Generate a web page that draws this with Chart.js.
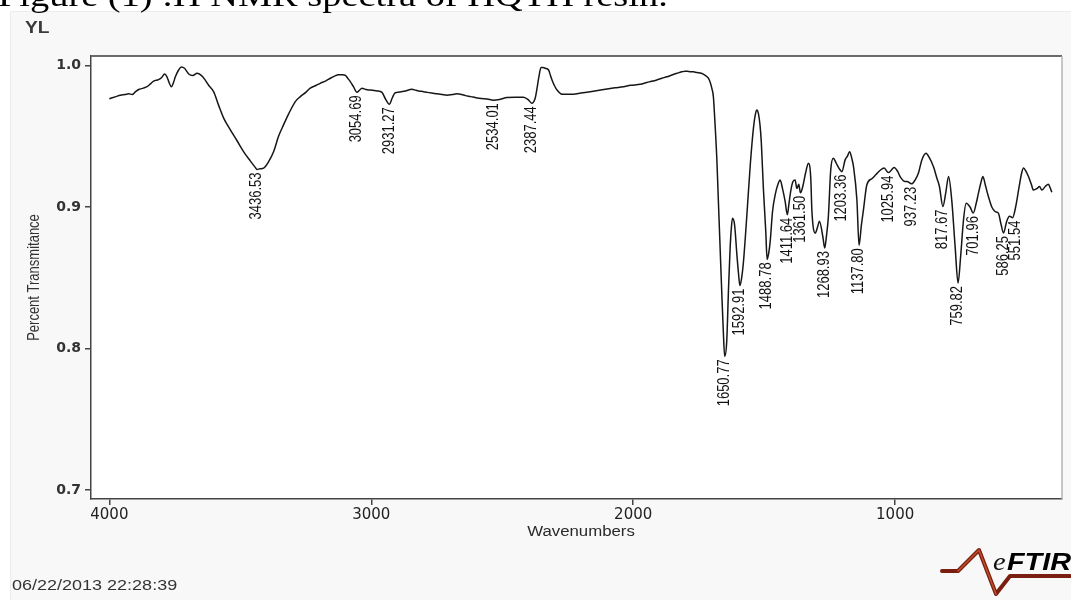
<!DOCTYPE html>
<html>
<head>
<meta charset="utf-8">
<title>FTIR spectrum</title>
<script src="https://cdn.jsdelivr.net/npm/chart.js@4.4.1/dist/chart.umd.min.js"></script>
<style>
  html, body { margin: 0; padding: 0; background: #fff; }
  canvas { display: block; }
</style>
</head>
<body>
<canvas id="spectrum" width="1071" height="600"></canvas>
<script>
// Spectrum trace: wavenumber (cm-1) and fractional transmittance
const waveNumbers = [
  4000, 3975, 3958, 3940, 3926, 3913, 3900, 3888, 3870, 3856, 3843, 3831, 3812, 3800, 3789, 3780, 3772, 3763, 3755, 3748,
  3735, 3725, 3713, 3705, 3697, 3681, 3665, 3649, 3635, 3621, 3602, 3583, 3564, 3538, 3513, 3487, 3462, 3443, 3436.53, 3425,
  3411, 3392, 3373, 3354, 3335, 3315, 3290, 3271, 3250, 3233, 3210, 3195, 3175, 3156, 3140, 3125, 3110, 3099, 3090, 3080,
  3068, 3054.69, 3045, 3036, 3020, 3010, 2995, 2978, 2959, 2945, 2931.27, 2920, 2910, 2902, 2885, 2870, 2845, 2830, 2819, 2800,
  2787, 2770, 2749, 2730, 2711, 2690, 2673, 2655, 2641, 2620, 2603, 2580, 2558, 2534.01, 2510, 2482, 2450, 2419, 2400, 2387.44,
  2374, 2367, 2361, 2352, 2344, 2336, 2323, 2316, 2310, 2300, 2291, 2272, 2250, 2228, 2200, 2164, 2130, 2100, 2070, 2037,
  2010, 1973, 1948, 1930, 1910, 1890, 1871, 1850, 1833, 1815, 1802, 1790, 1783, 1770, 1757, 1740, 1725, 1713, 1705, 1700,
  1694, 1688, 1681, 1675, 1668, 1662, 1656, 1650.77, 1643, 1636, 1630, 1625, 1621, 1613, 1604, 1598, 1592.91, 1586, 1579, 1566,
  1553, 1541, 1533, 1528, 1522, 1516, 1511, 1503, 1494, 1488.78, 1483, 1477, 1468, 1458, 1448, 1439, 1430, 1420, 1411.64, 1405,
  1398, 1390, 1382, 1375, 1368, 1361.5, 1352, 1342, 1331, 1322, 1318, 1305, 1296, 1289, 1276, 1268.93, 1262, 1255, 1246, 1236,
  1225, 1213, 1203.36, 1191, 1182, 1174, 1165, 1159, 1146, 1137.8, 1129, 1121, 1108, 1089, 1073, 1057, 1042, 1025.94, 1015, 1004,
  990, 981, 962, 955, 937.23, 924, 911, 898, 882, 870, 854, 840, 831, 817.67, 807, 796, 784, 771, 759.82, 750,
  739, 729, 714, 701.96, 690, 682, 673, 665, 655, 644, 631, 618, 606, 596, 586.25, 574, 563, 551.54, 540, 527,
  517, 510, 500, 491, 480, 472, 459, 449, 440, 427, 415, 408, 402
];
const transmittance = [
  0.9765, 0.978, 0.979, 0.9795, 0.980, 0.9795, 0.9815, 0.983, 0.984, 0.985, 0.987, 0.989, 0.990, 0.9915, 0.994, 0.992, 0.988, 0.985, 0.988, 0.992,
  0.997, 0.999, 0.998, 0.996, 0.994, 0.993, 0.9945, 0.993, 0.990, 0.986, 0.9815, 0.972, 0.963, 0.9545, 0.947, 0.939, 0.9326, 0.928, 0.9265, 0.927,
  0.9275, 0.932, 0.939, 0.950, 0.958, 0.966, 0.9745, 0.978, 0.981, 0.984, 0.986, 0.9874, 0.989, 0.991, 0.9925, 0.9935, 0.9935, 0.993, 0.991, 0.9886,
  0.985, 0.981, 0.9825, 0.984, 0.983, 0.9827, 0.9825, 0.982, 0.981, 0.976, 0.9726, 0.977, 0.9805, 0.981, 0.9815, 0.982, 0.9832, 0.9825, 0.982, 0.9815,
  0.981, 0.9805, 0.980, 0.9795, 0.979, 0.9795, 0.980, 0.9795, 0.9787, 0.978, 0.9773, 0.9766, 0.9764, 0.9755, 0.976, 0.9773, 0.9776, 0.9776, 0.9757, 0.9733,
  0.977, 0.984, 0.991, 0.9985, 0.9985, 0.998, 0.9968, 0.993, 0.9898, 0.9855, 0.9827, 0.9797, 0.9797, 0.9797, 0.9805, 0.9815, 0.9825, 0.9834, 0.9842, 0.985,
  0.986, 0.9867, 0.988, 0.9888, 0.9898, 0.991, 0.992, 0.9935, 0.9945, 0.9955, 0.996, 0.9958, 0.9956, 0.9955, 0.995, 0.9945, 0.993, 0.991, 0.9875, 0.984,
  0.978, 0.960, 0.935, 0.905, 0.870, 0.840, 0.812, 0.7945, 0.805, 0.843, 0.871, 0.886, 0.892, 0.8874, 0.866, 0.853, 0.8445, 0.850, 0.8615, 0.8945,
  0.930, 0.9557, 0.966, 0.9686, 0.966, 0.958, 0.946, 0.913, 0.883, 0.863, 0.867, 0.8757, 0.897, 0.9086, 0.9157, 0.919, 0.913, 0.904, 0.8945, 0.903,
  0.912, 0.918, 0.919, 0.913, 0.916, 0.910, 0.915, 0.924, 0.931, 0.920, 0.898, 0.8816, 0.886, 0.890, 0.879, 0.871, 0.880, 0.893, 0.926, 0.9345,
  0.931, 0.927, 0.925, 0.9333, 0.936, 0.939, 0.934, 0.9286, 0.905, 0.873, 0.887, 0.898, 0.9157, 0.920, 0.923, 0.926, 0.9275, 0.9243, 0.926, 0.928,
  0.925, 0.9215, 0.918, 0.918, 0.9164, 0.919, 0.924, 0.9333, 0.938, 0.935, 0.9286, 0.920, 0.9145, 0.9004, 0.9098, 0.9215, 0.905, 0.872, 0.8463, 0.865,
  0.891, 0.9027, 0.900, 0.8957, 0.903, 0.9098, 0.917, 0.9215, 0.915, 0.9074, 0.900, 0.8968, 0.8957, 0.888, 0.8816, 0.890, 0.8935, 0.8925, 0.900, 0.914,
  0.924, 0.9275, 0.925, 0.9215, 0.916, 0.912, 0.913, 0.9145, 0.912, 0.9145, 0.916, 0.9135, 0.9105
];

// Picked peak positions (cm-1), printed under each band
const peakLabels = [
  '3436.53', '3054.69', '2931.27', '2534.01', '2387.44', '1650.77', '1592.91', '1488.78', '1411.64', '1361.50',
  '1268.93', '1203.36', '1137.80', '1025.94', '937.23', '817.67', '759.82', '701.96', '586.25', '551.54'
];

const xTickValues = [4000, 3000, 2000, 1000];
const xTickLabels = ['4000', '3000', '2000', '1000'];
const yTickValues = [0.7, 0.8, 0.9, 1.0];
const yTickLabels = ['0.7', '0.8', '0.9', '1.0'];

const WIDTH = 1071, HEIGHT = 600;
const SANS = "'Liberation Sans', Arial, sans-serif";
const WIDE = 1.2; // horizontal widening of the instrument-style lettering

// Draw text, optionally rotated, with glyphs widened along the screen x direction
function drawText(ctx, text, x, y, opt) {
  ctx.save();
  ctx.translate(x, y);
  if (opt.rotate) {
    ctx.rotate(opt.rotate);
    ctx.scale(1, opt.stretch || 1);
  } else {
    ctx.scale(opt.stretch || 1, 1);
  }
  ctx.font = opt.font;
  ctx.fillStyle = opt.color || '#222';
  ctx.textAlign = opt.align || 'left';
  ctx.textBaseline = opt.baseline || 'alphabetic';
  ctx.fillText(text, 0, 0);
  ctx.restore();
}

// Linear look-up of the trace at any wavenumber
function traceAt(w) {
  for (let i = 0; i < waveNumbers.length - 1; i++) {
    const a = waveNumbers[i], b = waveNumbers[i + 1];
    if (w <= a && w >= b) {
      const t = (a - w) / (a - b);
      return transmittance[i] + t * (transmittance[i + 1] - transmittance[i]);
    }
  }
  return transmittance[transmittance.length - 1];
}

const pageDecor = {
  id: 'pageDecor',
  beforeDraw(chart) {
    const ctx = chart.ctx, a = chart.chartArea;
    ctx.save();
    ctx.fillStyle = '#ffffff';
    ctx.fillRect(0, 0, WIDTH, HEIGHT);
    ctx.fillStyle = '#f8f8f8';
    ctx.fillRect(10, 11, WIDTH - 10, HEIGHT - 11);
    ctx.strokeStyle = '#ececec';
    ctx.lineWidth = 1;
    ctx.beginPath();
    ctx.moveTo(10.5, HEIGHT); ctx.lineTo(10.5, 11.5); ctx.lineTo(WIDTH, 11.5);
    ctx.stroke();
    ctx.fillStyle = '#ffffff';
    ctx.fillRect(a.left, a.top, a.right - a.left, a.bottom - a.top);
    ctx.restore();
  },
  afterDraw(chart) {
    const ctx = chart.ctx, a = chart.chartArea;
    ctx.save();
    // frame: top and right edges of the plot box
    ctx.strokeStyle = '#6a6a6a';
    ctx.lineWidth = 2;
    ctx.beginPath();
    ctx.moveTo(a.left, a.top); ctx.lineTo(a.right, a.top);
    ctx.stroke();
    ctx.strokeStyle = '#b5b5b5';
    ctx.lineWidth = 1.5;
    ctx.beginPath();
    ctx.moveTo(a.right, a.top); ctx.lineTo(a.right, a.bottom);
    ctx.stroke();
    ctx.restore();

    // caption of the document page, running off the top edge
    drawText(ctx, 'Figure (1) :H NMR spectra of HQTH resin.', -2, 6,
      { font: "32px 'Liberation Serif', 'Times New Roman', serif", color: '#000', stretch: WIDE });

    // y-axis name label and axis titles
    drawText(ctx, 'YL', 25, 33, { font: 'bold 16px ' + SANS, color: '#3a3a3a', stretch: WIDE });
    drawText(ctx, 'Percent Transmitance', 35, (a.top + a.bottom) / 2,
      { font: '13px ' + SANS, color: '#333', rotate: -Math.PI / 2, stretch: WIDE, align: 'center', baseline: 'middle' });
    drawText(ctx, 'Wavenumbers', 581, 532,
      { font: '14px ' + SANS, color: '#2a2a2a', stretch: WIDE, align: 'center', baseline: 'middle' });

    // acquisition time stamp
    drawText(ctx, '06/22/2013 22:28:39', 12, 590, { font: '15px ' + SANS, color: '#333', stretch: WIDE });

    // eFTIR logo
    ctx.save();
    ctx.lineJoin = 'round';
    ctx.lineCap = 'round';
    ctx.strokeStyle = '#7a1e10';
    ctx.lineWidth = 4;
    ctx.beginPath();
    ctx.moveTo(942, 571);
    ctx.lineTo(958, 571);
    ctx.lineTo(979, 550);
    ctx.lineTo(996, 594);
    ctx.lineTo(1010, 576);
    ctx.lineTo(1070, 576);
    ctx.stroke();
    ctx.strokeStyle = '#c0502a';
    ctx.lineWidth = 1.5;
    ctx.beginPath();
    ctx.moveTo(958, 571);
    ctx.lineTo(979, 550);
    ctx.lineTo(996, 594);
    ctx.stroke();
    ctx.restore();
    drawText(ctx, 'e', 993, 570, { font: "italic 26px 'Liberation Serif', serif", color: '#111', stretch: 1.1 });
    drawText(ctx, 'FTIR', 1007, 570, { font: 'italic bold 24px ' + SANS, color: '#000', stretch: WIDE });
  }
};

// Vertical peak labels hung under each picked band
const peakMarks = {
  id: 'peakMarks',
  afterDatasetsDraw(chart) {
    const ctx = chart.ctx, xs = chart.scales.x, ys = chart.scales.y;
    const items = peakLabels.map(text => {
      const w = Number(text);
      const i = waveNumbers.findIndex(v => Math.abs(v - w) < 1e-6);
      return { text, px: xs.getPixelForValue(w), py: ys.getPixelForValue(transmittance[i]) };
    }).sort((p, q) => p.px - q.px);

    const minGap = 12;
    let prev = -Infinity;
    items.forEach(it => {
      if (it.px - prev < minGap) {
        // crowded: slide the label sideways and keep it under the trace
        it.px = prev + minGap;
        const curveY = ys.getPixelForValue(traceAt(xs.getValueForPixel(it.px)));
        it.py = Math.max(it.py, curveY);
      }
      prev = it.px;
      drawText(ctx, it.text, it.px, it.py + 3,
        { font: '13px ' + SANS, color: '#111', rotate: -Math.PI / 2, stretch: WIDE, align: 'right', baseline: 'middle' });
    });
  }
};

const points = waveNumbers.map((w, i) => ({ x: w, y: transmittance[i] }));

new Chart(document.getElementById('spectrum'), {
  type: 'line',
  data: {
    datasets: [{
      data: points,
      borderColor: '#161616',
      borderWidth: 1.5,
      pointRadius: 0,
      cubicInterpolationMode: 'monotone',
      fill: false
    }]
  },
  options: {
    responsive: false,
    animation: false,
    events: [],
    layout: { padding: { top: 56, right: 9, left: 0, bottom: 0 } },
    plugins: { legend: { display: false }, tooltip: { enabled: false } },
    scales: {
      x: {
        type: 'linear',
        reverse: true,
        min: 363,
        max: 4070,
        afterFit(scale) { scale.height = 101; },
        afterBuildTicks(scale) { scale.ticks = xTickValues.map(v => ({ value: v })); },
        ticks: {
          autoSkip: false,
          maxRotation: 0,
          padding: 1,
          color: '#222',
          font: { family: "'DejaVu Sans', Verdana, sans-serif", size: 15 },
          callback: (v, i) => xTickLabels[i]
        },
        grid: { drawOnChartArea: false, drawTicks: true, tickLength: 6, color: '#444', lineWidth: 1.5 },
        border: { display: true, color: '#444', width: 1.5 }
      },
      y: {
        type: 'linear',
        min: 0.6937,
        max: 1.0067,
        afterFit(scale) { scale.width = 91; },
        afterBuildTicks(scale) { scale.ticks = yTickValues.map(v => ({ value: v })); },
        ticks: {
          autoSkip: false,
          padding: 4,
          color: '#333',
          font: { family: "'DejaVu Sans', Verdana, sans-serif", size: 14, weight: 'bold' },
          callback: (v, i) => yTickLabels[i]
        },
        grid: { drawOnChartArea: false, drawTicks: true, tickLength: 6, color: '#444', lineWidth: 1.5 },
        border: { display: true, color: '#444', width: 1.5 }
      }
    }
  },
  plugins: [pageDecor, peakMarks]
});
</script>
</body>
</html>
